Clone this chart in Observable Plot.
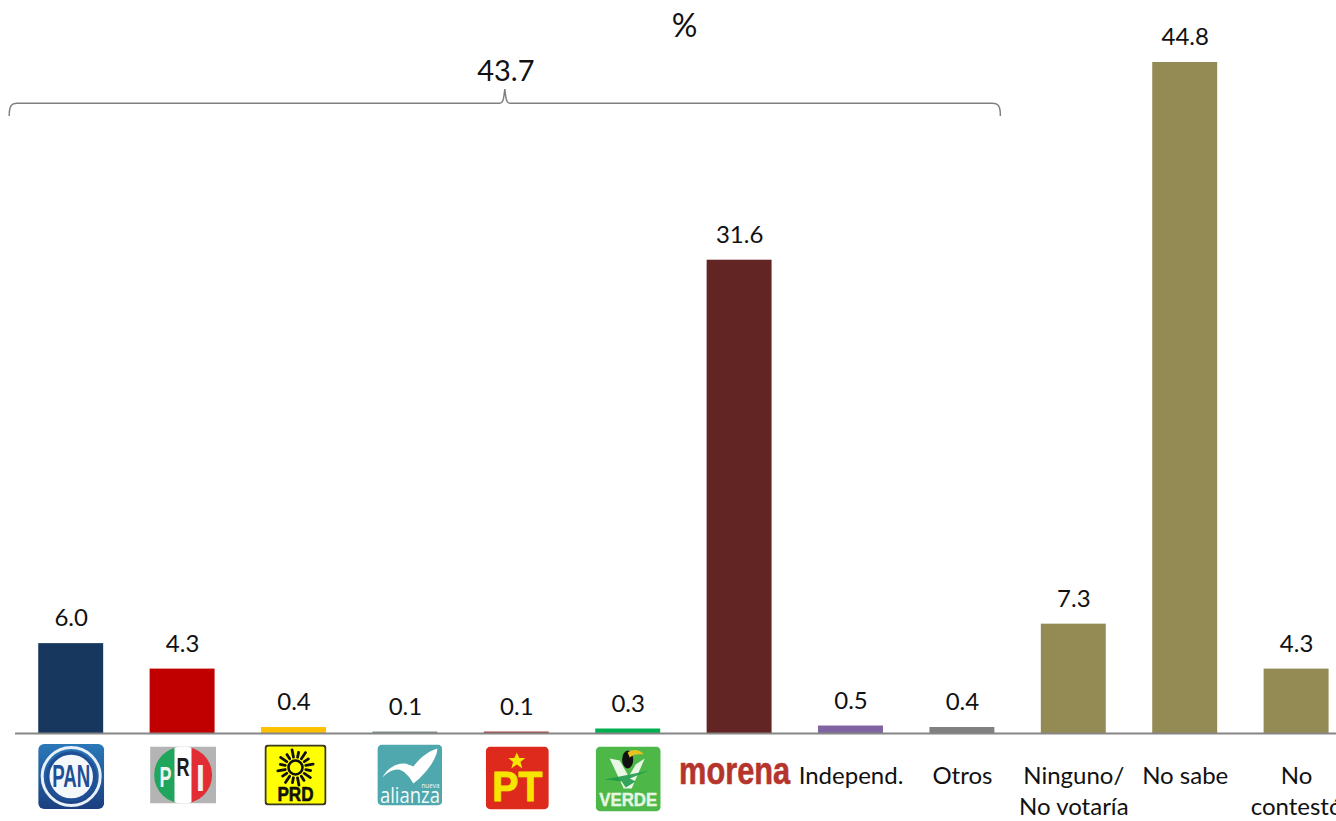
<!DOCTYPE html>
<html><head><meta charset="utf-8">
<script src="https://cdn.jsdelivr.net/npm/d3@7"></script>
<script src="https://cdn.jsdelivr.net/npm/@observablehq/plot@0.6"></script>
<style>html,body{margin:0;padding:0;background:#fff;overflow:hidden}svg{display:block}</style>
</head><body><div id="chart"></div>
<script>
const categories = ["PAN","PRI","PRD","Nueva Alianza","PT","Verde","Morena","Independ.","Otros","Ninguno/\nNo votaría","No sabe","No\ncontestó"];
const values = [6.0,4.3,0.4,0.1,0.1,0.3,31.6,0.5,0.4,7.3,44.8,4.3];
const colors = ["#17375E","#C00000","#FFC000","#7F8C8C","#A5403C","#00B050","#632523","#8064A2","#808080","#948A54","#948A54","#948A54"];
const textLabels = categories.slice(7);
const braceTotal = "43.7";
const unitTitle = "%";

const rows = categories.map((c,i)=>({c,v:values[i],color:colors[i]}));
const FONT = "Lato, Carlito, 'Open Sans', sans-serif";
const uri = s => "data:image/svg+xml;charset=utf-8," + encodeURIComponent(`<svg xmlns="http://www.w3.org/2000/svg" ${s}</svg>`);

// Logo artwork (its lettering is added as real text below)
const panArt = uri(`viewBox="0 0 66 65"><defs><linearGradient id="g" x1="0" y1="0" x2="0" y2="1"><stop offset="0" stop-color="#2a78b8"/><stop offset="1" stop-color="#1b3f80"/></linearGradient></defs><rect width="66" height="65" rx="6" fill="url(#g)"/><circle cx="33" cy="32.5" r="29" fill="none" stroke="#e8f0f8" stroke-width="3"/><circle cx="33" cy="32.5" r="23.5" fill="#f4f8fb" stroke="#1f4f96" stroke-width="3.5"/>`);
const priArt = uri(`viewBox="0 0 66 57"><rect width="66" height="57" fill="#b4b4b4"/><clipPath id="c"><ellipse cx="33" cy="28.5" rx="29" ry="28.5"/></clipPath><g clip-path="url(#c)"><rect x="4" width="20.5" height="57" fill="#1fa55c"/><rect x="24.5" width="17" height="57" fill="#fff"/><rect x="41.5" width="21" height="57" fill="#e22d35"/></g>`);
const rays = d3.range(16).map(i=>{const a=i*Math.PI/8+0.2,c=Math.cos(a),s=Math.sin(a),r2=i%2?18:15.5;return `<line x1="${31+10.5*c}" y1="${23+10.5*s}" x2="${31+r2*c}" y2="${23+r2*s}"/>`}).join("");
const prdArt = uri(`viewBox="0 0 62 61"><rect x="1" y="1" width="60" height="59" rx="3" fill="#ffff00" stroke="#3a3a20" stroke-width="2"/><circle cx="31" cy="23" r="7" fill="none" stroke="#111" stroke-width="2.6"/><g stroke="#111" stroke-width="2.8" stroke-linecap="round">${rays}</g>`);
const alianzaArt = uri(`viewBox="0 0 65 61"><rect width="65" height="61" rx="5" fill="#4fa8ae"/><path d="M5 33C10 24 18 19 26 19C30 19 33 21 36 22C42 14 50 7 60 4C60 14 48 30 36 39C32 32 26 25 20 25C14 25 9 29 5 33Z" fill="#fff"/>`);
const ptArt = uri(`viewBox="0 0 63 63"><rect width="63" height="63" rx="5" fill="#DE2A1C"/><polygon points="31,6 33.5,11.5 39.5,11.5 34.7,15.5 36.5,22 31,18 25.5,22 27.3,15.5 22.5,11.5 28.5,11.5" fill="#f6e500"/>`);
const verdeArt = uri(`viewBox="0 0 65 65"><rect width="65" height="65" rx="5" fill="#4DB848"/><path d="M14 12L24 14L33 30L40 18L49 12L36 42L28 42Z" fill="#eaf7e6"/><path d="M9 33L54 24L34 32L40 35L30 41L26 35Z" fill="#1f9a4a" opacity=".9"/><ellipse cx="32" cy="13" rx="5.5" ry="9" fill="#111"/><path d="M32 6C37 2 45 3 48 8C42 7 37 8 34 11Z" fill="#e8c21e"/>`);

function logo(cat, dx, dy, w, h, src){
  return Plot.image([cat],{x:d=>d,y:()=>0,dx,dy,width:w,height:h,src});
}
function fit(len){
  return (i,s,v,d,c,next)=>{
    const g = next(i,s,v,d,c);
    g.querySelectorAll("text").forEach(t=>{t.setAttribute("textLength",len);t.setAttribute("lengthAdjust","spacingAndGlyphs");});
    return g;
  };
}
function word(cat, text, dx, dy, len, opts){
  return Plot.text([text],{x:()=>cat,y:()=>0,text:d=>d,dx,dy,lineAnchor:"middle",fontWeight:"bold",fontFamily:"'Liberation Sans',sans-serif",render:fit(len),...opts});
}

function brace(index,{x,y}){
  const left = x("PAN")-29, right = x("Otros")+x.bandwidth()+6, mid=(left+right)/2;
  const yEnd=y(41.2), yBar=y(42.05), yTip=y(43.0);
  const p = `M${left},${yEnd}C${left},${yBar+3} ${left+2},${yBar} ${left+8},${yBar}L${mid-5},${yBar}C${mid-1.5},${yBar} ${mid-1},${yBar-5} ${mid},${yTip}C${mid+1},${yBar-5} ${mid+1.5},${yBar} ${mid+5},${yBar}L${right-8},${yBar}C${right-2},${yBar} ${right},${yBar+3} ${right},${yEnd}`;
  const el = document.createElementNS("http://www.w3.org/2000/svg","path");
  el.setAttribute("d",p);el.setAttribute("fill","none");el.setAttribute("stroke","#808080");el.setAttribute("stroke-width","1.5");
  return el;
}

const chart = Plot.plot({
  width:1336,height:821,margin:0,
  style:{background:"#fff",fontFamily:FONT},
  x:{domain:categories,range:[15,1351.8],paddingInner:0.417,paddingOuter:0.2085,round:false,axis:null},
  y:{domain:[0,44.8],range:[733,62],axis:null},
  marks:[
    Plot.barY(rows,{x:"c",y:"v",fill:"color"}),
    Plot.ruleY([0],{stroke:"#868686",strokeWidth:2,insetLeft:15}),
    Plot.text(rows,{x:"c",y:"v",text:d=>d.v.toFixed(1),dy:-25,fontSize:24,fill:"#111",lineAnchor:"middle"}),
    Plot.text(rows.filter(d=>textLabels.includes(d.c)),{x:"c",y:()=>0,text:"c",dy:28,fontSize:24,fill:"#111",lineAnchor:"top",lineHeight:1.3,textOverflow:null}),
    brace,
    Plot.text([braceTotal],{x:()=>"PT",y:()=>44.2,text:d=>d,dx:-11,fontSize:29,fill:"#111",lineAnchor:"middle"}),
    Plot.text([unitTitle],{x:()=>"Morena",y:()=>47.2,text:d=>d,dx:-55,fontSize:32,fill:"#111",lineAnchor:"middle"}),

    logo("PAN",0,43,66,65,panArt),
    word("PAN","PAN",0,43,38,{fontSize:32,fill:"#1f4f96"}),
    logo("PRI",0.5,41.5,66,57,priArt),
    word("PRI","P",-17,44,12,{fontSize:30,fill:"#f2f2f2"}),
    word("PRI","R",0.5,34,13,{fontSize:26,fill:"#1c1c1c"}),
    word("PRI","I",18,46,9,{fontSize:36,fill:"#f2f2f2"}),
    logo("PRD",1.5,41.5,62,61,prdArt),
    word("PRD","PRD",1.5,61,36,{fontSize:20,fill:"#111",stroke:"#111",strokeWidth:0.6}),
    logo("Nueva Alianza",4.5,41.5,65,61,alianzaArt),
    word("Nueva Alianza","alianza",4.5,62,60,{fontFamily:"'Open Sans',sans-serif",fontSize:22,fill:"#f2fafa",fontWeight:"normal"}),
    word("Nueva Alianza","nueva",25,52,18,{fontFamily:"'Open Sans',sans-serif",fontSize:8,fill:"#f2fafa",fontWeight:"normal"}),
    logo("PT",0.5,44.5,63,63,ptArt),
    word("PT","PT",0.5,54,50,{fontSize:43,fill:"#f6e500",stroke:"#f6e500",strokeWidth:1}),
    logo("Verde",0,45.5,65,65,verdeArt),
    word("Verde","VERDE",0,67,58,{fontSize:18,fill:"#e6f6e2",stroke:"#e6f6e2",strokeWidth:0.4}),
    word("Morena","morena",-5,38,111,{fontSize:38,fill:"#B5352C",stroke:"#B5352C",strokeWidth:0.6})
  ]
});
document.getElementById("chart").append(chart);
</script></body></html>
